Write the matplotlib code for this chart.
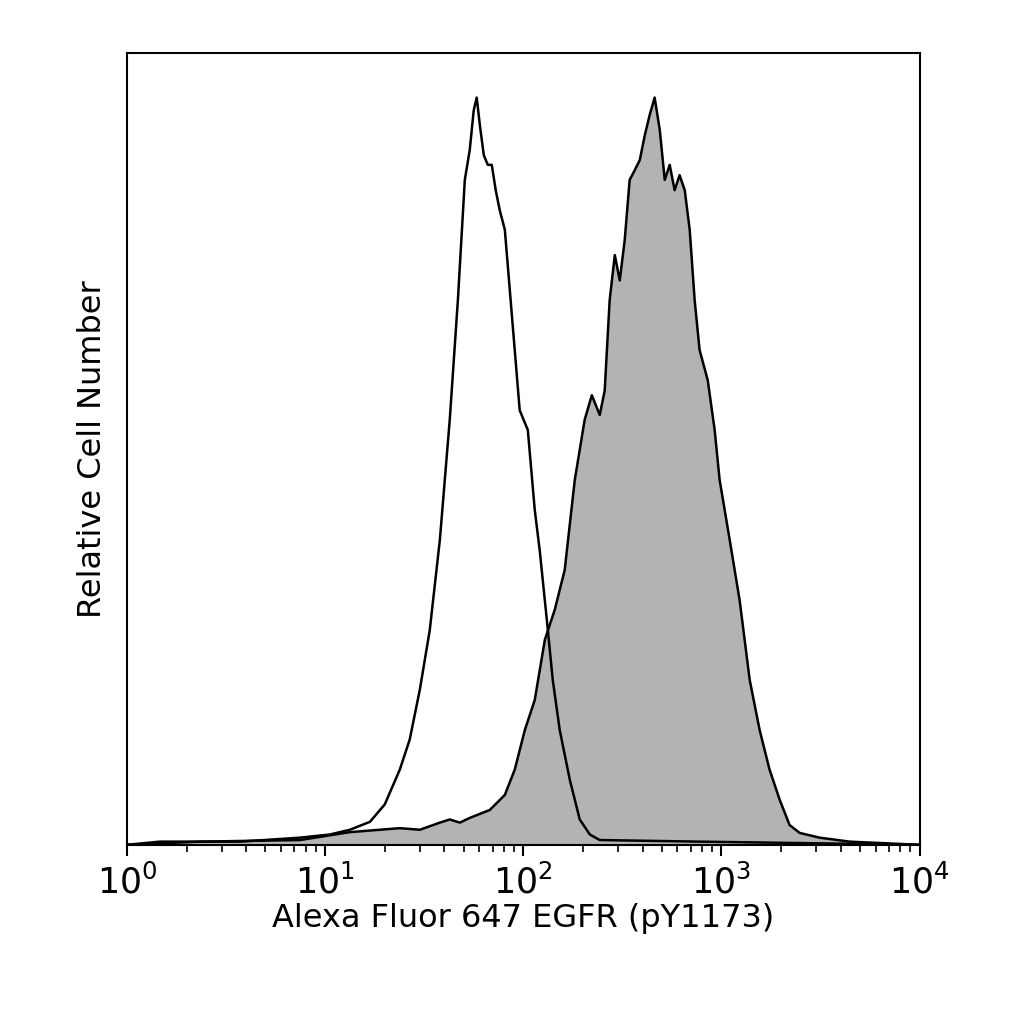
import numpy as np
import matplotlib.pyplot as plt

# log10 intensity and relative count (% of axis height)
ctrl_log = [0.00, 0.166, 0.57, 0.873, 1.024, 1.125, 1.226, 1.301, 1.377, 1.427, 1.478, 1.528,
            1.579, 1.629, 1.670, 1.705, 1.730, 1.750, 1.765, 1.781, 1.801, 1.821, 1.841, 1.861,
            1.881, 1.907, 1.932, 1.957, 1.982, 2.023, 2.058, 2.083, 2.119, 2.149, 2.184, 2.235,
            2.285, 2.336, 2.386, 2.890, 4.0]
ctrl_y = [0, 0.4, 0.4, 0.9, 1.3, 1.9, 2.9, 5.1, 9.5, 13.3, 19.6, 27.1,
          38.5, 53.7, 68.8, 84.0, 87.8, 92.8, 94.4, 90.9, 87.1, 85.9, 85.9, 82.7,
          80.2, 77.7, 70.1, 62.5, 54.9, 52.4, 42.3, 37.2, 28.4, 20.8, 14.5, 8.2,
          3.2, 1.3, 0.6, 0.4, 0]

egfr_log = [0.00, 0.368, 0.873, 1.125, 1.276, 1.377, 1.478, 1.579, 1.629, 1.680, 1.730, 1.831,
            1.907, 1.957, 2.008, 2.058, 2.109, 2.159, 2.209, 2.260, 2.310, 2.346, 2.386, 2.411,
            2.436, 2.462, 2.487, 2.512, 2.537, 2.562, 2.588, 2.613, 2.638, 2.663, 2.689, 2.714,
            2.739, 2.764, 2.789, 2.815, 2.840, 2.865, 2.890, 2.931, 2.966, 2.991, 3.042, 3.092,
            3.143, 3.193, 3.243, 3.294, 3.344, 3.395, 3.496, 3.647, 4.0]
egfr_y = [0, 0.4, 0.6, 1.6, 1.9, 2.1, 1.9, 2.8, 3.2, 2.8, 3.4, 4.4,
          6.3, 9.5, 14.5, 18.3, 25.9, 29.7, 34.7, 46.1, 53.7, 56.8, 54.3, 57.4,
          68.8, 74.5, 71.3, 76.4, 84.0, 85.2, 86.5, 89.6, 92.2, 94.4, 90.3, 84.0,
          85.9, 82.7, 84.6, 82.7, 77.7, 68.8, 62.5, 58.7, 52.4, 46.1, 38.5, 30.9,
          20.8, 14.5, 9.5, 5.7, 2.5, 1.5, 0.9, 0.4, 0]

ctrl_x = 10 ** np.array(ctrl_log)
egfr_x = 10 ** np.array(egfr_log)

fig = plt.figure(figsize=(10.24, 10.24), dpi=100)
ax = fig.add_axes([0.124, 0.175, 0.774, 0.773])

ax.fill_between(egfr_x, egfr_y, color='#b3b3b3', lw=0)
ax.plot(egfr_x, egfr_y, color='black', lw=1.8)
ax.plot(ctrl_x, ctrl_y, color='black', lw=1.8)

ax.set_xscale('log')
ax.set_xlim(1, 1e4)
ax.set_ylim(0, 100)
ax.set_yticks([])
ax.set_xticks([1, 10, 100, 1000, 10000])
ax.set_xticklabels([r'$10^0$', r'$10^1$', r'$10^2$', r'$10^3$', r'$10^4$'])
ax.tick_params(axis='x', which='major', length=8, width=1.5, labelsize=25, pad=6)
ax.tick_params(axis='x', which='minor', length=5, width=1.2)
for s in ax.spines.values():
    s.set_linewidth(1.5)

ax.set_xlabel('Alexa Fluor 647 EGFR (pY1173)', fontsize=23, labelpad=2)
ax.set_ylabel('Relative Cell Number', fontsize=23, labelpad=14)

fig.savefig('out.png', dpi=100)
